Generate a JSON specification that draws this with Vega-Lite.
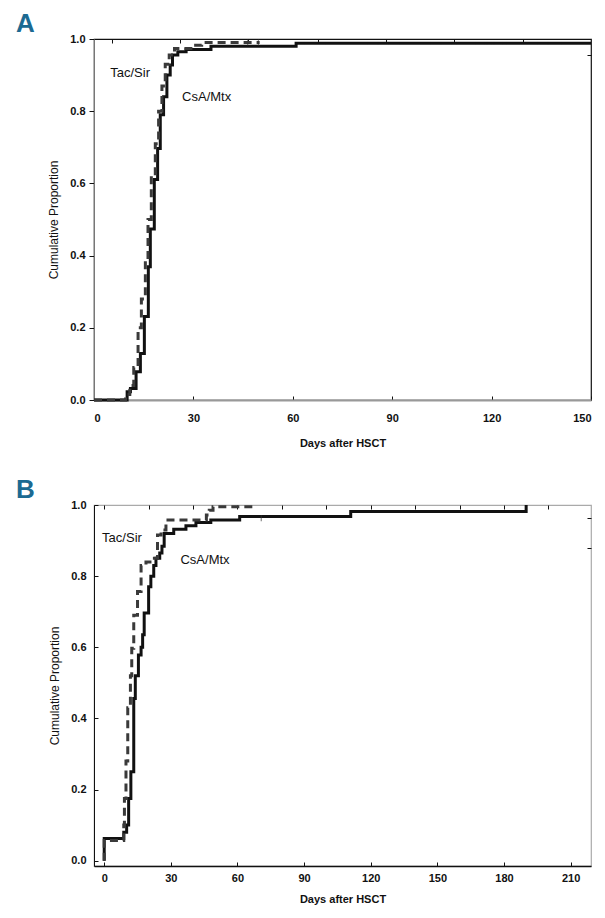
{
  "$schema": "https://vega.github.io/schema/vega-lite/v6.json",
  "background": "white",
  "padding": {"left": 15, "top": 10, "right": 14, "bottom": 5},
  "spacing": 27,
  "config": {
    "font": "Liberation Sans",
    "axis": {
      "labelFont": "Liberation Sans",
      "labelFontWeight": "bold",
      "labelFontSize": 11,
      "labelColor": "#111",
      "titleFont": "Liberation Sans",
      "titleFontSize": 11,
      "titleColor": "#111",
      "grid": false,
      "tickColor": "#111",
      "domainColor": "#111"
    },
    "title": {"font": "Liberation Sans Narrow, Liberation Sans", "fontSize": 26, "fontWeight": "bold", "color": "#1c6a92", "anchor": "start", "frame": "group"}
  },
  "datasets": {
    "curvesA": [
      {"group": "CsA/Mtx", "day": 0, "p": 0},
      {"group": "CsA/Mtx", "day": 10, "p": 0.023},
      {"group": "CsA/Mtx", "day": 11, "p": 0.032},
      {"group": "CsA/Mtx", "day": 12.7, "p": 0.078},
      {"group": "CsA/Mtx", "day": 14, "p": 0.129},
      {"group": "CsA/Mtx", "day": 15.2, "p": 0.231},
      {"group": "CsA/Mtx", "day": 16.4, "p": 0.369},
      {"group": "CsA/Mtx", "day": 17, "p": 0.474},
      {"group": "CsA/Mtx", "day": 18.2, "p": 0.611},
      {"group": "CsA/Mtx", "day": 19.2, "p": 0.697},
      {"group": "CsA/Mtx", "day": 20, "p": 0.79},
      {"group": "CsA/Mtx", "day": 21, "p": 0.84},
      {"group": "CsA/Mtx", "day": 22, "p": 0.9},
      {"group": "CsA/Mtx", "day": 23, "p": 0.928},
      {"group": "CsA/Mtx", "day": 23.7, "p": 0.956},
      {"group": "CsA/Mtx", "day": 25.3, "p": 0.965},
      {"group": "CsA/Mtx", "day": 27.8, "p": 0.971},
      {"group": "CsA/Mtx", "day": 35.3, "p": 0.98},
      {"group": "CsA/Mtx", "day": 61, "p": 0.988},
      {"group": "CsA/Mtx", "day": 150, "p": 0.988},
      {"group": "Tac/Sir", "day": 0, "p": 0},
      {"group": "Tac/Sir", "day": 9.5, "p": 0.015},
      {"group": "Tac/Sir", "day": 10.8, "p": 0.04},
      {"group": "Tac/Sir", "day": 12, "p": 0.09},
      {"group": "Tac/Sir", "day": 13.3, "p": 0.2},
      {"group": "Tac/Sir", "day": 14.3, "p": 0.28},
      {"group": "Tac/Sir", "day": 15.5, "p": 0.39},
      {"group": "Tac/Sir", "day": 16.3, "p": 0.5},
      {"group": "Tac/Sir", "day": 17.3, "p": 0.62},
      {"group": "Tac/Sir", "day": 18.5, "p": 0.71},
      {"group": "Tac/Sir", "day": 19.5, "p": 0.8},
      {"group": "Tac/Sir", "day": 20.5, "p": 0.87},
      {"group": "Tac/Sir", "day": 21.5, "p": 0.93},
      {"group": "Tac/Sir", "day": 22.7, "p": 0.956},
      {"group": "Tac/Sir", "day": 24.3, "p": 0.974},
      {"group": "Tac/Sir", "day": 30, "p": 0.983},
      {"group": "Tac/Sir", "day": 32.5, "p": 0.99},
      {"group": "Tac/Sir", "day": 50, "p": 0.99}
    ],
    "curvesB": [
      {"group": "CsA/Mtx", "day": 0, "p": 0},
      {"group": "CsA/Mtx", "day": 0, "p": 0.062},
      {"group": "CsA/Mtx", "day": 8.8, "p": 0.08},
      {"group": "CsA/Mtx", "day": 10.1, "p": 0.1},
      {"group": "CsA/Mtx", "day": 11, "p": 0.175},
      {"group": "CsA/Mtx", "day": 12, "p": 0.25},
      {"group": "CsA/Mtx", "day": 13.3, "p": 0.456},
      {"group": "CsA/Mtx", "day": 14, "p": 0.52},
      {"group": "CsA/Mtx", "day": 15.4, "p": 0.578},
      {"group": "CsA/Mtx", "day": 16.6, "p": 0.6},
      {"group": "CsA/Mtx", "day": 17.3, "p": 0.635},
      {"group": "CsA/Mtx", "day": 18, "p": 0.696},
      {"group": "CsA/Mtx", "day": 20, "p": 0.77},
      {"group": "CsA/Mtx", "day": 21, "p": 0.8},
      {"group": "CsA/Mtx", "day": 22.3, "p": 0.83},
      {"group": "CsA/Mtx", "day": 23.3, "p": 0.85},
      {"group": "CsA/Mtx", "day": 25, "p": 0.865},
      {"group": "CsA/Mtx", "day": 26, "p": 0.884},
      {"group": "CsA/Mtx", "day": 27, "p": 0.92},
      {"group": "CsA/Mtx", "day": 31.3, "p": 0.932},
      {"group": "CsA/Mtx", "day": 36.8, "p": 0.942},
      {"group": "CsA/Mtx", "day": 41.3, "p": 0.951},
      {"group": "CsA/Mtx", "day": 48, "p": 0.958},
      {"group": "CsA/Mtx", "day": 61, "p": 0.968},
      {"group": "CsA/Mtx", "day": 111, "p": 0.982},
      {"group": "CsA/Mtx", "day": 190, "p": 1.0},
      {"group": "Tac/Sir", "day": 0, "p": 0},
      {"group": "Tac/Sir", "day": 0, "p": 0.057},
      {"group": "Tac/Sir", "day": 8.8, "p": 0.1},
      {"group": "Tac/Sir", "day": 9.1, "p": 0.175},
      {"group": "Tac/Sir", "day": 9.8, "p": 0.28},
      {"group": "Tac/Sir", "day": 10.6, "p": 0.43},
      {"group": "Tac/Sir", "day": 11.8, "p": 0.52},
      {"group": "Tac/Sir", "day": 12.4, "p": 0.597},
      {"group": "Tac/Sir", "day": 13.3, "p": 0.69},
      {"group": "Tac/Sir", "day": 15, "p": 0.757},
      {"group": "Tac/Sir", "day": 16.6, "p": 0.83},
      {"group": "Tac/Sir", "day": 18.8, "p": 0.84},
      {"group": "Tac/Sir", "day": 21.8, "p": 0.85},
      {"group": "Tac/Sir", "day": 24, "p": 0.916},
      {"group": "Tac/Sir", "day": 25.6, "p": 0.93},
      {"group": "Tac/Sir", "day": 27.8, "p": 0.958},
      {"group": "Tac/Sir", "day": 46, "p": 0.972},
      {"group": "Tac/Sir", "day": 47.3, "p": 0.985},
      {"group": "Tac/Sir", "day": 49, "p": 0.995},
      {"group": "Tac/Sir", "day": 68.4, "p": 0.995}
    ],
    "labelsA": [
      {"label": "Tac/Sir", "day": 10.9, "p": 0.905},
      {"label": "CsA/Mtx", "day": 34, "p": 0.84}
    ],
    "labelsB": [
      {"label": "Tac/Sir", "day": 8, "p": 0.907},
      {"label": "CsA/Mtx", "day": 45.4, "p": 0.846}
    ],
    "censorA": [
      {"group": "Tac/Sir", "day": 46.4, "p": 0.99},
      {"group": "Tac/Sir", "day": 49.6, "p": 0.99}
    ],
    "censorB": [
      {"group": "CsA/Mtx", "day": 70.7, "p": 0.963}
    ]
  },
  "vconcat": [
    {
      "title": {"text": "A", "dx": -78, "offset": -4},
      "width": 497,
      "height": 361,
      "view": {"stroke": "#111", "strokeWidth": 1.2},
      "layer": [
        {
          "data": {"name": "curvesA"},
          "mark": {"type": "line", "interpolate": "step-after", "strokeWidth": 3},
          "encoding": {
            "x": {"field": "day", "type": "quantitative", "scale": {"domain": [0, 150], "nice": false, "zero": false},
                  "axis": {"orient": "bottom", "values": [0, 30, 60, 90, 120, 150], "title": "Days after HSCT", "titleFontWeight": "bold", "titlePadding": 14, "domainColor": "#999", "domainWidth": 2, "tickSize": -4, "labelPadding": 16}},
            "y": {"field": "p", "type": "quantitative", "scale": {"domain": [0, 1], "nice": false},
                  "axis": {"orient": "left", "values": [0, 0.2, 0.4, 0.6, 0.8, 1.0], "format": ".1f", "title": "Cumulative Proportion", "titleFontSize": 12, "titleFontWeight": "normal", "titlePadding": 9, "domainColor": "#777", "tickSize": 5, "labelPadding": 4}},
            "color": {"field": "group", "type": "nominal", "scale": {"domain": ["CsA/Mtx", "Tac/Sir"], "range": ["#111111", "#3a3a3a"]}, "legend": null},
            "strokeDash": {"field": "group", "type": "nominal", "scale": {"domain": ["CsA/Mtx", "Tac/Sir"], "range": [[1, 0], [8, 5]]}, "legend": null}
          }
        },
        {
          "data": {"name": "labelsA"},
          "mark": {"type": "text", "font": "Liberation Sans", "fontSize": 13, "color": "#111"},
          "encoding": {
            "x": {"field": "day", "type": "quantitative", "axis": null},
            "y": {"field": "p", "type": "quantitative", "axis": null},
            "text": {"field": "label"}
          }
        },
        {
          "data": {"name": "censorA"},
          "mark": {"type": "tick", "orient": "vertical", "size": 6, "thickness": 1, "color": "#333"},
          "encoding": {
            "x": {"field": "day", "type": "quantitative",
                  "axis": {"orient": "top", "values": [5.4, 26, 46.4, 67.5, 88, 108.7, 129.5], "labels": false, "title": null, "domain": false, "tickSize": -4}},
            "y": {"field": "p", "type": "quantitative",
                  "axis": {"orient": "right", "values": [0.956], "labels": false, "title": null, "domain": false, "tickSize": -4}}
          }
        }
      ]
    },
    {
      "title": {"text": "B", "dx": -78, "offset": -4},
      "width": 497,
      "height": 361,
      "view": {"stroke": "#aaa", "strokeWidth": 1.2},
      "layer": [
        {
          "data": {"name": "curvesB"},
          "mark": {"type": "line", "interpolate": "step-after", "strokeWidth": 3},
          "encoding": {
            "x": {"field": "day", "type": "quantitative", "scale": {"domain": [-4.6, 219.2], "nice": false, "zero": false},
                  "axis": {"orient": "bottom", "values": [0, 30, 60, 90, 120, 150, 180, 210], "title": "Days after HSCT", "titleFontWeight": "bold", "titlePadding": 10, "domainColor": "#111", "domainWidth": 1.5, "tickSize": -4, "labelPadding": 10}},
            "y": {"field": "p", "type": "quantitative", "scale": {"domain": [-0.015, 1], "nice": false, "zero": false},
                  "axis": {"orient": "left", "values": [0, 0.2, 0.4, 0.6, 0.8, 1.0], "format": ".1f", "title": "Cumulative Proportion", "titleFontSize": 12, "titleFontWeight": "normal", "titlePadding": 9, "domainColor": "#111", "tickSize": -4, "labelPadding": 12}},
            "color": {"field": "group", "type": "nominal", "scale": {"domain": ["CsA/Mtx", "Tac/Sir"], "range": ["#111111", "#3a3a3a"]}, "legend": null},
            "strokeDash": {"field": "group", "type": "nominal", "scale": {"domain": ["CsA/Mtx", "Tac/Sir"], "range": [[1, 0], [8, 5]]}, "legend": null}
          }
        },
        {
          "data": {"name": "labelsB"},
          "mark": {"type": "text", "font": "Liberation Sans", "fontSize": 13, "color": "#111"},
          "encoding": {
            "x": {"field": "day", "type": "quantitative", "axis": null},
            "y": {"field": "p", "type": "quantitative", "axis": null},
            "text": {"field": "label"}
          }
        },
        {
          "data": {"name": "censorB"},
          "mark": {"type": "tick", "orient": "vertical", "size": 6, "thickness": 1, "color": "#333"},
          "encoding": {
            "x": {"field": "day", "type": "quantitative",
                  "axis": {"orient": "top", "values": [0, 20, 40, 60, 80, 100, 120, 140, 160, 180, 200], "labels": false, "title": null, "domain": false, "tickSize": -4}},
            "y": {"field": "p", "type": "quantitative",
                  "axis": {"orient": "right", "values": [0.879, 0.963], "labels": false, "title": null, "domain": false, "tickSize": -4}}
          }
        }
      ]
    }
  ]
}
